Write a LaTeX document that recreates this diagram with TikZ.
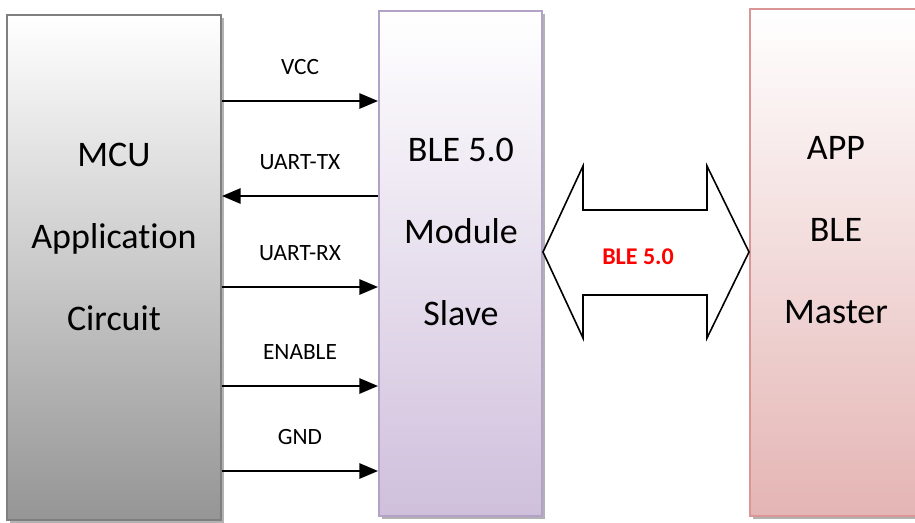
\documentclass[tikz,border=0pt]{standalone}
\usepackage{fontspec}
\setmainfont{Carlito}[Ligatures=NoCommon]
\usetikzlibrary{arrows.meta,shadows,positioning}

\definecolor{mculine}{HTML}{7F7F7F}
\definecolor{mcubot}{HTML}{959595}
\definecolor{modline}{HTML}{B3A2C7}
\definecolor{modbot}{HTML}{CFBFDC}
\definecolor{appline}{HTML}{D99694}
\definecolor{appbot}{HTML}{E4B5B4}

\tikzset{
  block/.style={draw, line width=1.5pt, inner sep=0pt, minimum height=378.75pt,
    drop shadow={shadow xshift=2.5pt, shadow yshift=-2.5pt, fill=black, opacity=0.3}},
  blocktext/.style={align=center, inner sep=0pt, font=\fontsize{27}{61.5}\selectfont},
  sig/.style={line width=1.4pt, -{Triangle[length=14pt,width=11.5pt]}},
  siglabel/.style={font=\fontsize{17.5}{20}\selectfont, inner sep=0pt, above=19pt}
}

\begin{document}
\begin{tikzpicture}[x=0.75pt, y=-0.75pt]
  \useasboundingbox (0,0) rectangle (915,522);

  % the three blocks
  \node[block, draw=mculine, top color=white, bottom color=mcubot,
        minimum width=160.5pt] (mcu) at (114,267.5) {};
  \node[block, draw=modline, top color=white, bottom color=modbot,
        minimum width=122.25pt] (mod) at (460.5,263.5) {};
  \node[block, draw=appline, top color=white, bottom color=appbot,
        minimum width=135pt, minimum height=380.25pt] (app) at (840,262.5) {};

  \node[blocktext] (mcutext) at (114,237) {MCU\\Application\\Circuit};
  \node[blocktext] (modtext) at (461,232) {BLE 5.0\\Module\\Slave};
  \node[blocktext] (apptext) at (836,230) {APP\\BLE\\Master};

  % signal lines
  \draw[sig] (mcu.east |- 0,101) -- node[siglabel] {VCC} (mod.west |- 0,101);
  \draw[sig] (mod.west |- 0,196) -- node[siglabel] {UART-TX} (mcu.east |- 0,196);
  \draw[sig] (mcu.east |- 0,287) -- node[siglabel] {UART-RX} (mod.west |- 0,287);
  \draw[sig] (mcu.east |- 0,386) -- node[siglabel] {ENABLE} (mod.west |- 0,386);
  \draw[sig] (mcu.east |- 0,471) -- node[siglabel] {GND} (mod.west |- 0,471);

  % wireless link
  \draw[line width=1.2pt, fill=white, line join=miter]
    (mod.east |- 0,252) -- (583,166) -- (583,210) -- (707,210) -- (707,166)
    -- (app.west |- 0,252) -- (707,338) -- (707,295) -- (583,295) -- (583,338) -- cycle;
  \node[text=red, font=\fontsize{18}{20}\selectfont\bfseries] (link) at (638,257) {BLE 5.0};
\end{tikzpicture}
\end{document}
